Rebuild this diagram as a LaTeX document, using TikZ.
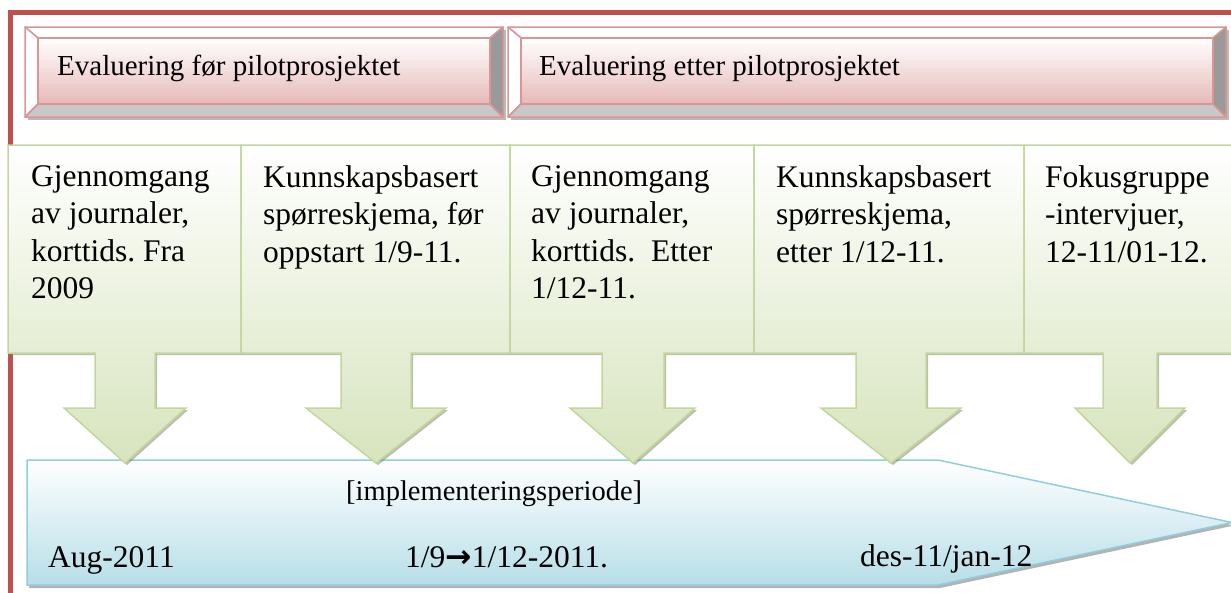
\documentclass[tikz,border=0pt]{standalone}
\usepackage{fontspec}
\setmainfont{Liberation Serif}
\newfontfamily\arrowfont{DejaVu Sans}
\usetikzlibrary{shadows}
\definecolor{framered}{HTML}{C0504D}
\definecolor{boxpink}{HTML}{E6B9B8}
\definecolor{boxline}{HTML}{D99694}
\definecolor{bevelgray}{HTML}{C8C8C8}
\definecolor{beveldark}{HTML}{9A9A9A}
\definecolor{cellgreen}{HTML}{D7E4BD}
\definecolor{cellline}{HTML}{C3D69B}
\definecolor{lineblue}{HTML}{92CDDC}
\definecolor{fillblue}{HTML}{B7DEE8}
\frenchspacing

\begin{document}
\begin{tikzpicture}[x=1pt, y=-1pt]

\tikzstyle{bevel}=[draw=boxline, line width=1.5pt, line join=round]
\tikzstyle{cell}=[draw=cellline, line width=1.5pt, top color=white, bottom color=cellgreen,
  drop shadow={shadow xshift=2pt, shadow yshift=-2pt, opacity=.5, fill=black!45!cellgreen}]
\tikzstyle{boxtext}=[anchor=base west, inner sep=0, font=\rmfamily\fontsize{29}{34}\selectfont]
\tikzstyle{celltext}=[anchor=north west, inner sep=0, align=left, font=\rmfamily\fontsize{31.5}{37.5}\selectfont]
\tikzstyle{datetext}=[anchor=base west, inner sep=0, font=\rmfamily\fontsize{31.5}{37}\selectfont]

\useasboundingbox (0,0) rectangle (1231,592);
\clip (0,0) rectangle (1231,592);

% frame
\draw[framered, line width=5pt] (10,600) -- (10,12.5) -- (1240,12.5);

% evaluation boxes
\fill[black!45, opacity=.6] (28,30) rectangle (506,120);
\draw[bevel, fill=white] (25,27) -- (503,27) -- (490,38) -- (38,38) -- cycle;
\draw[bevel, fill=white] (25,27) -- (38,38) -- (38,104) -- (25,117) -- cycle;
\draw[bevel, fill=bevelgray] (25,117) -- (38,104) -- (490,104) -- (503,117) -- cycle;
\draw[bevel, fill=beveldark] (503,27) -- (503,117) -- (490,104) -- (490,38) -- cycle;
\draw[bevel, top color=white, bottom color=boxpink] (38,38) rectangle (490,104);

\fill[black!45, opacity=.6] (511,30) rectangle (1229,120);
\draw[bevel, fill=white] (508,27) -- (1226,27) -- (1213,38) -- (521,38) -- cycle;
\draw[bevel, fill=white] (508,27) -- (521,38) -- (521,104) -- (508,117) -- cycle;
\draw[bevel, fill=bevelgray] (508,117) -- (521,104) -- (1213,104) -- (1226,117) -- cycle;
\draw[bevel, fill=beveldark] (1226,27) -- (1226,117) -- (1213,104) -- (1213,38) -- cycle;
\draw[bevel, top color=white, bottom color=boxpink] (521,38) rectangle (1213,104);

\node[boxtext] (before) at (57,75) {Evaluering før pilotprosjektet};
\node[boxtext] (after) at (539,75) {Evaluering etter pilotprosjektet};

% timeline
\draw[lineblue, line width=1.5pt, top color=white, bottom color=fillblue,
  drop shadow={shadow xshift=2pt, shadow yshift=-3pt, opacity=.6, fill=black!50}]
  (27,460) -- (938,460) -- (1232,522.5) -- (938,585) -- (27,585) -- cycle;

% callouts
\draw[cell] (8,145) -- (241,145) -- (241,353) -- (155,353) -- (155,408) -- (186,408)
  -- (125,463) -- (64,408) -- (95,408) -- (95,353) -- (8,353) -- cycle;
\draw[cell] (241,145) -- (510,145) -- (510,353) -- (411,353) -- (411,408) -- (446,408)
  -- (376,463) -- (306,408) -- (341,408) -- (341,353) -- (241,353) -- cycle;
\draw[cell] (510,145) -- (754,145) -- (754,353) -- (664,353) -- (664,408) -- (695,408)
  -- (633,463) -- (570,408) -- (602,408) -- (602,353) -- (510,353) -- cycle;
\draw[cell] (754,145) -- (1024,145) -- (1024,353) -- (926,353) -- (926,408) -- (961,408)
  -- (891,463) -- (821,408) -- (856,408) -- (856,353) -- (754,353) -- cycle;
\draw[cell] (1024,145) -- (1240,145) -- (1240,353) -- (1157,353) -- (1157,408) -- (1185,408)
  -- (1130,463) -- (1075,408) -- (1103,408) -- (1103,353) -- (1024,353) -- cycle;

\node[celltext] (journal1) at (31,165) {Gjennomgang\\av journaler,\\korttids. Fra\\2009};
\node[celltext] (survey1) at (263,165) {Kunnskapsbasert\\spørreskjema, før\\oppstart 1/9-11.};
\node[celltext] (journal2) at (531,165) {Gjennomgang\\av journaler,\\korttids.\ \ Etter\\1/12-11.};
\node[celltext] (survey2) at (776,165) {Kunnskapsbasert\\spørreskjema,\\etter 1/12-11.};
\node[celltext] (focus) at (1045,165) {Fokusgruppe\\-intervjuer,\\12-11/01-12.};

\node[anchor=base west, inner sep=0, font=\rmfamily\fontsize{28.5}{34}\selectfont] (period) at (346,500) {[implementeringsperiode]};
\node[datetext] (aug) at (48,567) {Aug-2011};
\node[datetext] (impl) at (405,567) {1/9{\arrowfont\bfseries →}1/12-2011.};
\node[datetext] (desjan) at (860,566) {des-11/jan-12};

\end{tikzpicture}
\end{document}
